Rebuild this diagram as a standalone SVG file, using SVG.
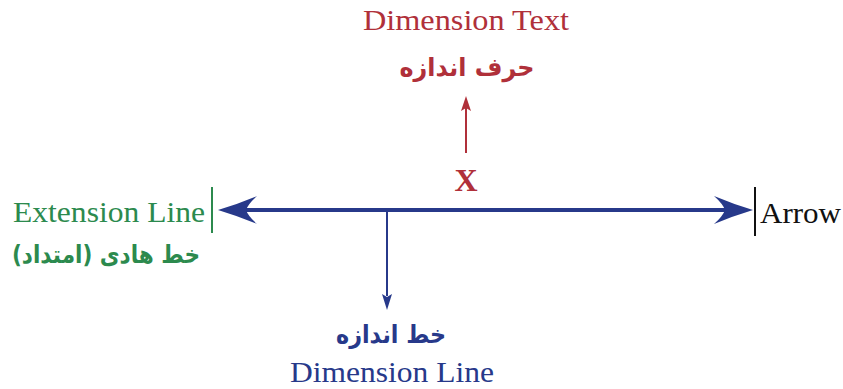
<svg xmlns="http://www.w3.org/2000/svg" width="843" height="389" viewBox="0 0 843 389">
<style>
.en{font-family:"Liberation Serif","Times New Roman",serif;font-size:30px}
.fa{font-family:"DejaVu Sans","Noto Sans",sans-serif;font-weight:bold;font-size:25px}
.red{fill:#b0303a}.blue{fill:#27398a}.green{fill:#2c8a4e}.black{fill:#111}
</style>
<rect width="843" height="389" fill="#fff"/>
<g id="connectors">
  <line x1="240" y1="210" x2="732" y2="210" stroke="#27398a" stroke-width="4"/>
  <path d="M218 210 Q238 204 257 196 Q248 204 246 210 Q248 216 257 224 Q238 216 218 210 Z" fill="#27398a"/>
  <path d="M753 210 Q733 204 714 196 Q723 204 725 210 Q723 216 714 224 Q733 216 753 210 Z" fill="#27398a"/>
  <line x1="387" y1="212" x2="387" y2="296" stroke="#27398a" stroke-width="2"/>
  <path d="M387 310 L382 294 L387 297 L392 294 Z" fill="#27398a"/>
  <line x1="466" y1="153" x2="466" y2="106" stroke="#b0303a" stroke-width="2"/>
  <path d="M466 96 L461 111 L466 108 L471 111 Z" fill="#b0303a"/>
</g>
<g id="extension-line">
  <line x1="212" y1="187" x2="212" y2="233" stroke="#2c8a4e" stroke-width="2"/>
  <text class="en green" x="205" y="222" text-anchor="end" textLength="192" lengthAdjust="spacingAndGlyphs">Extension Line</text>
  <text class="fa green" x="106" y="263" text-anchor="middle" direction="rtl" textLength="188" lengthAdjust="spacingAndGlyphs">خط هادی (امتداد)</text>
</g>
<g id="arrow">
  <line x1="755" y1="187" x2="755" y2="236" stroke="#111" stroke-width="2"/>
  <text class="en black" x="760" y="223" textLength="81" lengthAdjust="spacingAndGlyphs">Arrow</text>
</g>
<g id="dimension-text">
  <text class="en red" x="466" y="30" text-anchor="middle" textLength="206" lengthAdjust="spacingAndGlyphs">Dimension Text</text>
  <text class="fa red" x="467" y="76" text-anchor="middle" direction="rtl" textLength="135" lengthAdjust="spacingAndGlyphs">حرف اندازه</text>
  <text x="466" y="191" text-anchor="middle" font-family="Liberation Serif,serif" font-weight="bold" font-size="32" fill="#b0303a">X</text>
</g>
<g id="dimension-line">
  <text class="fa blue" x="391" y="343" text-anchor="middle" direction="rtl" textLength="110" lengthAdjust="spacingAndGlyphs">خط اندازه</text>
  <text class="en blue" x="392" y="382" text-anchor="middle" textLength="204" lengthAdjust="spacingAndGlyphs">Dimension Line</text>
</g>
</svg>
